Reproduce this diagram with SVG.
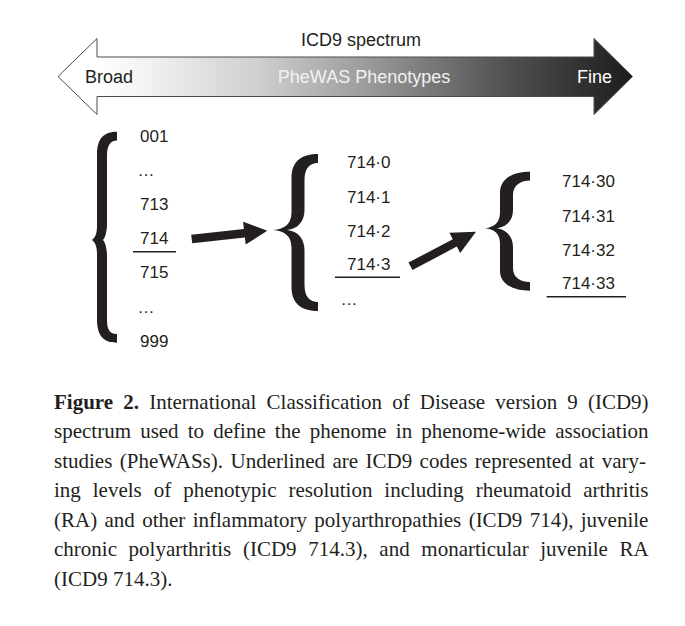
<svg xmlns="http://www.w3.org/2000/svg" width="685" height="626" viewBox="0 0 685 626">
<style>
.lbl{font-family:"Liberation Sans",Arial,sans-serif;font-size:18px;fill:#231f20}
.num{font-family:"Liberation Sans",Arial,sans-serif;font-size:17px;fill:#231f20}
.brace{fill:#231f20;stroke:none}
.ul{stroke:#231f20;stroke-width:1.6}
.cap{font-family:"Liberation Serif","Times New Roman",serif;font-size:21px;fill:#231f20}
.arr{fill:#231f20}
</style>
<defs>
<linearGradient id="spec" gradientUnits="userSpaceOnUse" x1="97" y1="0" x2="632" y2="0">
<stop offset="0" stop-color="#ffffff"/>
<stop offset="0.08" stop-color="#f4f4f4"/>
<stop offset="0.3" stop-color="#cfcfcf"/>
<stop offset="0.5" stop-color="#9c9c9c"/>
<stop offset="0.75" stop-color="#555555"/>
<stop offset="1" stop-color="#1c1c1c"/>
</linearGradient>
</defs>
<rect width="685" height="626" fill="#ffffff"/>
<g id="spectrum">
<text class="lbl" x="361" y="46" text-anchor="middle">ICD9 spectrum</text>
<path d="M58,76.5 L97,38.5 L97,57 L594,57 L594,38.5 L632.5,76.5 L594,114.5 L594,96.5 L97,96.5 L97,114.5 Z" fill="url(#spec)" stroke="#4a4a4a" stroke-width="1"/>
<text class="lbl" x="85" y="83">Broad</text>
<text class="lbl" x="364" y="83" text-anchor="middle" style="fill:#f2f2f2">PheWAS Phenotypes</text>
<text class="lbl" x="577" y="83" style="fill:#ffffff">Fine</text>
</g>
<g id="level1">
<path class="brace" d="M117,131.7 C104,131.7 97,138 97,155 L97,226 C97,234 95,238 91.7,240 C95,242 97,246 97,254 L97,320 C97,336 104,342.7 117,342.7 L117,334 C110,334 107,330 107,320 L107,256 C107,248 105,242 103,240 C105,238 107,232 107,224 L107,156 C107,146 110,140.5 117,140.5 Z"/>
<text class="num" x="140" y="141.7">001</text>
<text class="num" x="137.5" y="176">…</text>
<text class="num" x="140" y="210">713</text>
<text class="num" x="140" y="244">714</text>
<line class="ul" x1="133" y1="251.7" x2="176" y2="251.7"/>
<text class="num" x="140" y="278">715</text>
<text class="num" x="137.5" y="313">…</text>
<text class="num" x="140" y="346.7">999</text>
</g>
<g id="level2">
<path class="brace" d="M318,154 C303,154 291.5,160 291.5,178 L291.5,212 C291.5,224 285,229 273,230 C285,231 291.5,236 291.5,248 L291.5,287 C291.5,305 303,311 318,311 L318,302 C310,302 304.5,297 304.5,285 L304.5,250 C304.5,239 298,231 287,230 C298,229 304.5,221 304.5,210 L304.5,180 C304.5,168 310,163 318,163 Z"/>
<text class="num" x="347" y="168.3">714·0</text>
<text class="num" x="347" y="202.7">714·1</text>
<text class="num" x="347" y="236.7">714·2</text>
<text class="num" x="347" y="270">714·3</text>
<line class="ul" x1="335" y1="277.3" x2="400" y2="277.3"/>
<text class="num" x="340.5" y="305">…</text>
</g>
<g id="level3">
<path class="brace" d="M530,171.7 C515,171.7 500,177 500,193 L500,212 C500,222 495,227 485,228.3 C495,229.5 500,234 500,244 L500,271 C500,285 515,290.7 530,290.7 L530,282 C521,282 513,278 513,268 L513,247 C513,237 507,230 497,228.3 C507,227 513,220 513,210 L513,195 C513,185 521,180.5 530,180.5 Z"/>
<text class="num" x="562" y="187.3">714·30</text>
<text class="num" x="562" y="221.7">714·31</text>
<text class="num" x="562" y="255.7">714·32</text>
<text class="num" x="562" y="289.3">714·33</text>
<line class="ul" x1="546.7" y1="296.7" x2="626" y2="296.7"/>
</g>
<g id="connectors">
<polygon class="arr" points="191.2,234.8 243.9,229.0 243.1,221.8 267.3,230.7 245.7,244.6 244.9,237.4 192.2,243.2"/>
<polygon class="arr" points="408.5,262.6 452.8,239.2 449.4,232.7 476,231.7 460.2,253.1 456.8,246.6 412.5,270.0"/>
</g>
<g id="caption">
<text class="cap" x="54" y="408.5" word-spacing="4.9"><tspan font-weight="bold">Figure 2.</tspan> International Classification of Disease version 9 (ICD9)</text>
<text class="cap" x="54" y="438" word-spacing="3.9">spectrum used to define the phenome in phenome-wide association</text>
<text class="cap" x="54" y="467.5" word-spacing="2.2">studies (PheWASs). Underlined are ICD9 codes represented at vary-</text>
<text class="cap" x="54" y="497" word-spacing="6.7">ing levels of phenotypic resolution including rheumatoid arthritis</text>
<text class="cap" x="54" y="526.5" word-spacing="2.1">(RA) and other inflammatory polyarthropathies (ICD9 714), juvenile</text>
<text class="cap" x="54" y="556" word-spacing="6.4">chronic polyarthritis (ICD9 714.3), and monarticular juvenile RA</text>
<text class="cap" x="54" y="585.5">(ICD9 714.3).</text>
</g>
</svg>
